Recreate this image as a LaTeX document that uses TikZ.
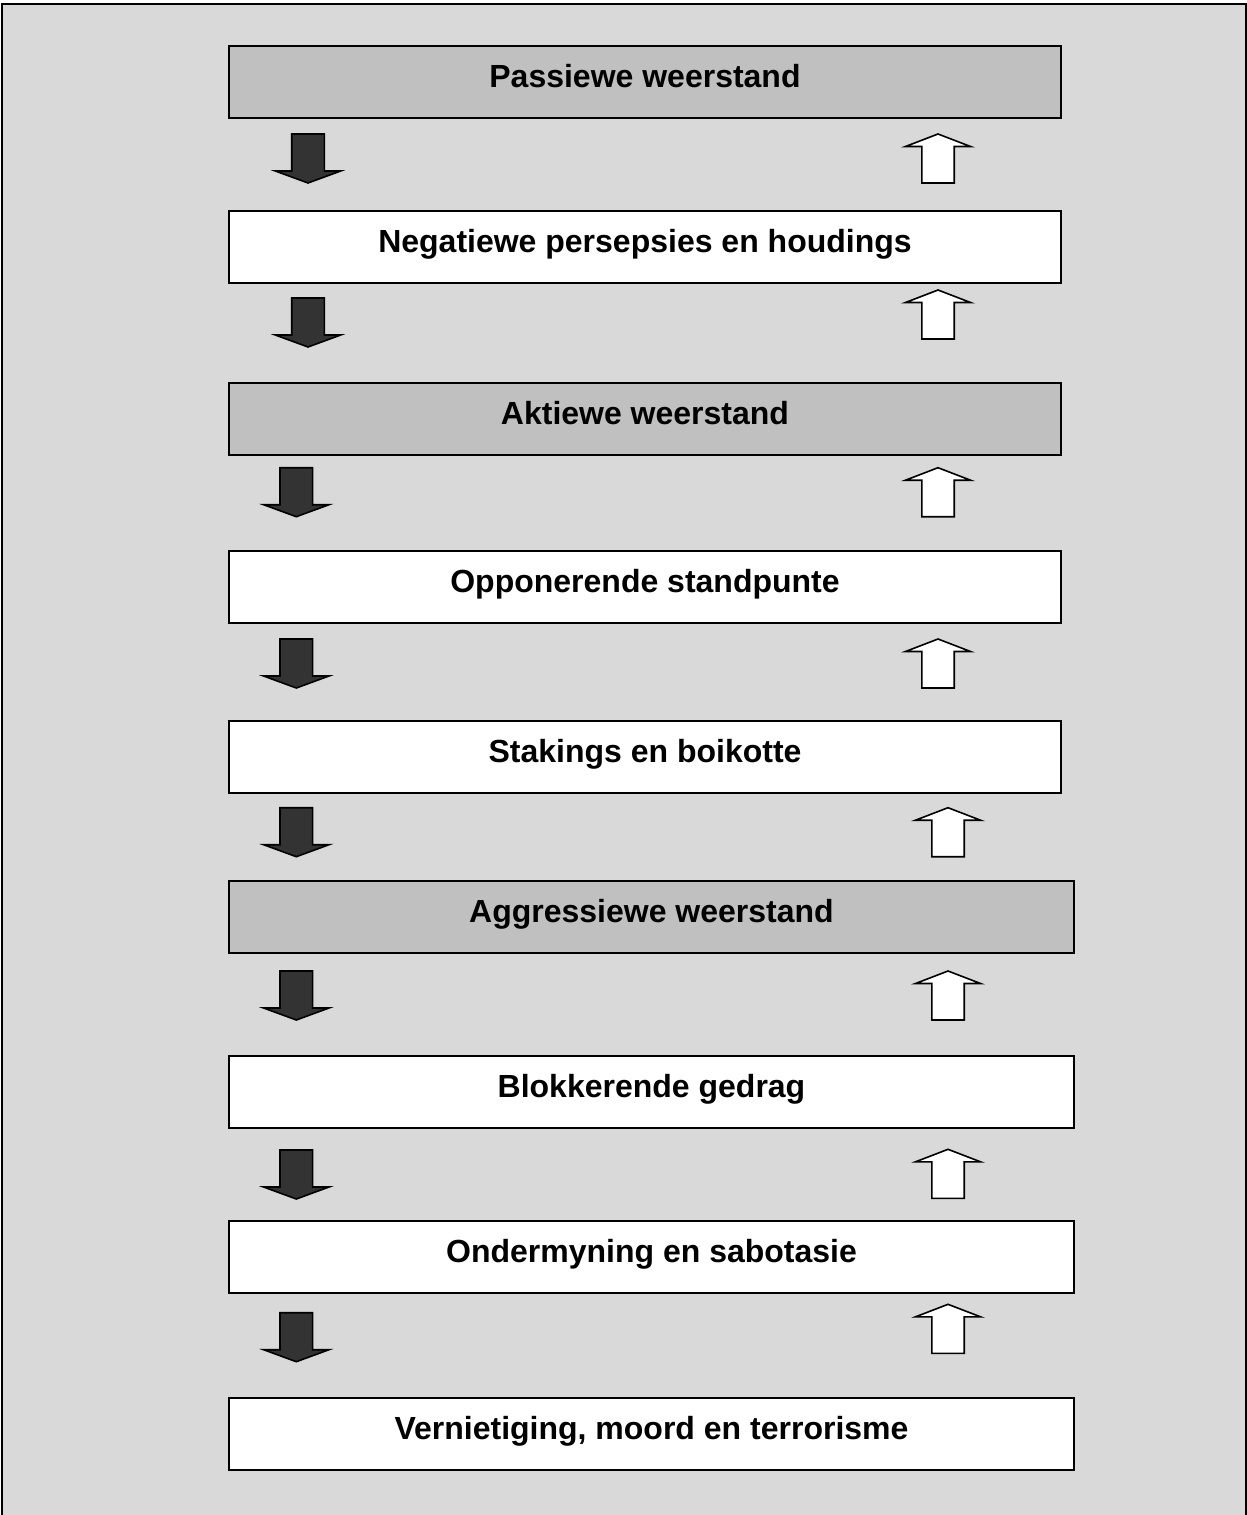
\documentclass[tikz,border=0pt]{standalone}
\usepackage{fontspec}
\setmainfont{Liberation Sans}
\definecolor{pagegray}{HTML}{D9D9D9}
\definecolor{levelgray}{HTML}{C0C0C0}
\definecolor{darkarrow}{HTML}{333333}
\begin{document}
\begin{tikzpicture}[x=1pt,y=-1pt,
  stagebox/.style={draw=black, line width=2pt, anchor=north west, inner sep=0pt,
    minimum height=72pt, text height=24pt, text depth=13pt,
    font=\fontsize{32}{38}\selectfont\bfseries},
  levelbox/.style={stagebox, fill=levelgray},
  plainbox/.style={stagebox, fill=white},
  dnarrow/.pic={
    \draw[fill=darkarrow, line width=1.6pt, line join=miter]
      (-16.3,0) -- (16.3,0) -- (16.3,37) -- (32.7,37) -- (0,49)
      -- (-32.7,37) -- (-16.3,37) -- cycle;},
  uparrow/.pic={
    \draw[fill=white, line width=1.6pt, line join=miter]
      (0,0) -- (32.5,12.5) -- (16.2,12.5) -- (16.2,49) -- (-16.2,49)
      -- (-16.2,12.5) -- (-32.5,12.5) -- cycle;}]
\useasboundingbox (0,0) rectangle (1247,1515);
% page frame, open at the bottom
\fill[pagegray] (2,4) rectangle (1245.5,1515);
\draw[line width=2pt] (2,1515) -- (2,4) -- (1245.5,4) -- (1245.5,1515);

% stages of resistance
\node[levelbox, minimum width=832pt] (passive) at (228,45)   {Passiewe weerstand};
\node[plainbox, minimum width=832pt] (percept) at (228,210)  {Negatiewe persepsies en houdings};
\node[levelbox, minimum width=832pt] (active)  at (228,381.5){Aktiewe weerstand};
\node[plainbox, minimum width=832pt] (oppose)  at (228,550)  {Opponerende standpunte};
\node[plainbox, minimum width=832pt] (strike)  at (228,719.5){Stakings en boikotte};
\node[levelbox, minimum width=845pt] (aggress) at (228,879.5){Aggressiewe weerstand};
\node[plainbox, minimum width=845pt] (block)   at (228,1055) {Blokkerende gedrag};
\node[plainbox, minimum width=845pt] (sabot)   at (228,1220) {Ondermyning en sabotasie};
\node[plainbox, minimum width=845pt] (destroy) at (228,1397) {Vernietiging, moord en terrorisme};

% escalation (down) and de-escalation (up) arrows between the stages
\pic at (308,134)    {dnarrow};
\pic at (308,298)    {dnarrow};
\pic at (296.3,467.7){dnarrow};
\pic at (296.3,639)  {dnarrow};
\pic at (296.3,807.7){dnarrow};
\pic at (296.3,971)  {dnarrow};
\pic at (296.3,1150) {dnarrow};
\pic at (296.3,1312.7){dnarrow};

\pic at (938,134)  {uparrow};
\pic at (938,290)  {uparrow};
\pic at (938,467.7){uparrow};
\pic at (938,639)  {uparrow};
\pic at (948,807.7){uparrow};
\pic at (948,971)  {uparrow};
\pic at (948,1149.3){uparrow};
\pic at (948,1304.3){uparrow};
\end{tikzpicture}
\end{document}
